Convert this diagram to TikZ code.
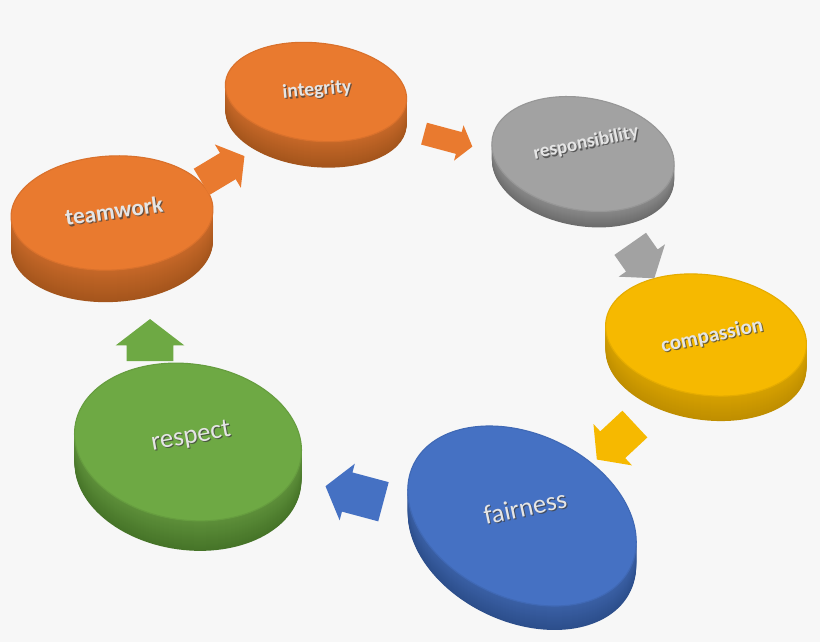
\documentclass[tikz,border=0pt]{standalone}
\usepackage{fontspec}
\setmainfont{Carlito}
\usetikzlibrary{shapes.geometric,shapes.arrows}
\definecolor{bgcol}{HTML}{F7F7F7}
\definecolor{orangeFace}{HTML}{E97A2F}
\definecolor{orangeSide}{HTML}{A4551C}
\definecolor{grayFace}{HTML}{A2A2A2}
\definecolor{graySide}{HTML}{6C6C6C}
\definecolor{yellowFace}{HTML}{F6B900}
\definecolor{yellowSide}{HTML}{BF8E00}
\definecolor{blueFace}{HTML}{4571C3}
\definecolor{blueSide}{HTML}{2C4E8B}
\definecolor{greenFace}{HTML}{6EA944}
\definecolor{greenSide}{HTML}{467428}
\colorlet{orangeMid}{orangeFace!85!black}
\colorlet{grayMid}{grayFace!85!black}
\colorlet{yellowMid}{yellowFace!87!black}
\colorlet{blueMid}{blueFace!85!black}
\colorlet{greenMid}{greenFace!85!black}
\tikzset{disctop/.style={
		ellipse,
		inner sep=0pt,
		line width=0.8pt},
	blockarrow/.style={
		single arrow,
		inner xsep=0pt,
		single arrow tip angle=105},
	word/.style={
		text=white!90!black,
		inner sep=0pt},
	wordshadow/.style={
		text=black!75,
		opacity=0.75,
		inner sep=0pt}}

\begin{document}
\begin{tikzpicture}[x=0.025cm,y=-0.025cm]
				\useasboundingbox (0,0) rectangle (820,642);
				\fill[bgcol] (0,0) rectangle (820,642);
				
				\foreach \nm/\x/\y/\a/\b/\r/\t/\hue in {teamwork/112/213/101/57/3/32/orange,
					integrity/316/92/91/49/-6/26/orange,
					responsibility/583/154/92/56/-10/16/gray,
					compassion/706/335/101/60/-8/25/yellow,
					fairness/522/516/120/82/-25/24/blue,
					respect/188/442/114/78/-8/30/green}{
					\foreach \k in {\t,...,1}{
						\pgfmathtruncatemacro\m{100*\k/\t}
						\fill[\hue Side!\m!\hue Mid, rotate around={\r:({\x},{\y+\k})}] ({\x},{\y+\k}) ellipse [x radius=\a, y radius=\b];
					}
					\node[disctop, fill=\hue Face, draw=\hue Face!93!black, minimum width={\a*0.05cm}, minimum height={\b*0.05cm}, rotate=\r] (\nm) at (\x,\y) {};
				}
				
				\foreach \nm/\x/\y/\s/\r/\w in {teamwork/114/211/16.5/8/b, integrity/317/90/14/5/b,
					responsibility/586/143/13.6/12/b, compassion/712/336/15/12/b,
					fairness/525/507/19/12/m, respect/191/437/19/10/m}{
					\node[wordshadow, font=\fontsize{\s}{\s}\fontseries{\w}\selectfont, rotate=\r] (\nm-shadow) at ({\x+1.2},{\y+1.2}) {\nm};
					\node[word, font=\fontsize{\s}{\s}\fontseries{\w}\selectfont, rotate=\r] (\nm-label) at (\x,\y) {\nm};
				}
				
				\node[blockarrow, fill=orangeFace, minimum height=1.25cm, inner ysep=0.375cm, single arrow head extend=0.25cm, rotate=31] (arrow1) at (218,172) {};
				\node[blockarrow, fill=orangeFace, minimum height=1.25cm, inner ysep=0.275cm, single arrow head extend=0.175cm, rotate=-15] (arrow2) at (444,139) {};
				\node[blockarrow, fill=grayFace, minimum height=1.05cm, inner ysep=0.475cm, single arrow head extend=0.225cm, rotate=-55] (arrow3) at (638,255) {};
				\node[blockarrow, fill=yellowFace, minimum height=1.3cm, inner ysep=0.45cm, single arrow head extend=0.25cm, rotate=-137] (arrow4) at (621,437) {};
				\node[blockarrow, fill=blueFace, minimum height=1.5cm, inner ysep=0.5cm, single arrow head extend=0.225cm, rotate=165] (arrow5) at (362,496) {};
				\node[blockarrow, fill=greenFace, minimum height=1.05cm, inner ysep=0.575cm, single arrow head extend=0.275cm, rotate=90] (arrow6) at (150,349) {};
			\end{tikzpicture}
\end{document}
